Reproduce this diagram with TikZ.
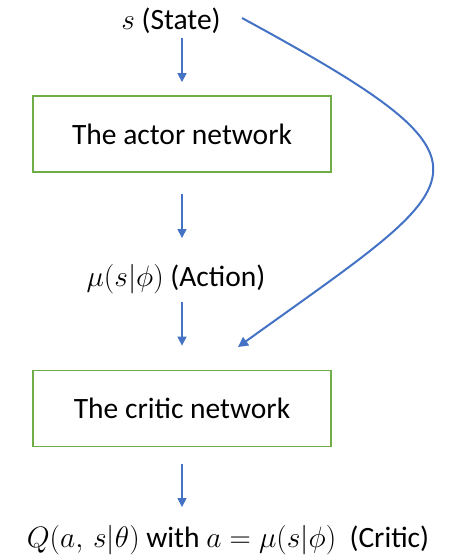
\RequirePackage{fix-cm}
\documentclass[tikz,border=0pt]{standalone}
\usepackage{fontspec}
\setmainfont{Carlito}
\usetikzlibrary{arrows.meta}
\definecolor{arrowblue}{HTML}{4472C4}
\definecolor{boxgreen}{HTML}{70AD47}
\begin{document}
\begin{tikzpicture}[x=1pt,y=-1pt,
  lbl/.style={font=\fontsize{29.5}{34}\selectfont, inner sep=0pt},
  netbox/.style={draw=boxgreen, line width=1.8pt, minimum width=298pt, minimum height=76pt,
    font=\fontsize{29.5}{34}\selectfont, inner sep=0pt},
  flow/.style={draw=arrowblue, line width=1.5pt, -{Triangle[length=9pt,width=9pt]}},
  curvedflow/.style={draw=arrowblue, line width=2pt, -{Triangle[length=10pt,width=10pt]}}]
\useasboundingbox (0,0) rectangle (449,558);
\node[lbl] (state) at (171,21) {$s$ (State)};
\node[netbox] (actor) at (182,134) {The actor network};
\node[lbl] (action) at (176,279) {$\mu(s|\phi)$ (Action)};
\node[netbox] (critic) at (182,408.5) {The critic network};
\node[lbl] (out) at (228,540) {$Q(a,\,s|\theta)$ with $a=\mu(s|\phi)$\ \ (Critic)};
\coordinate (cstart) at (242,18);
\coordinate (cend) at (238,347);
\draw[flow, shorten <=4pt, shorten >=13pt] (state.south -| actor.north) -- (actor.north);
\draw[flow, shorten <=21pt, shorten >=26pt] (actor.south) -- (actor.south |- action.north);
\draw[flow, shorten <=8pt, shorten >=24pt] (actor.south |- action.south) -- (critic.north);
\draw[flow, shorten <=17pt, shorten >=18pt] (critic.south) -- (critic.south |- out.north);
\draw[curvedflow] (cstart) .. controls (518,168) and (474,177) .. (cend);
\end{tikzpicture}
\end{document}
